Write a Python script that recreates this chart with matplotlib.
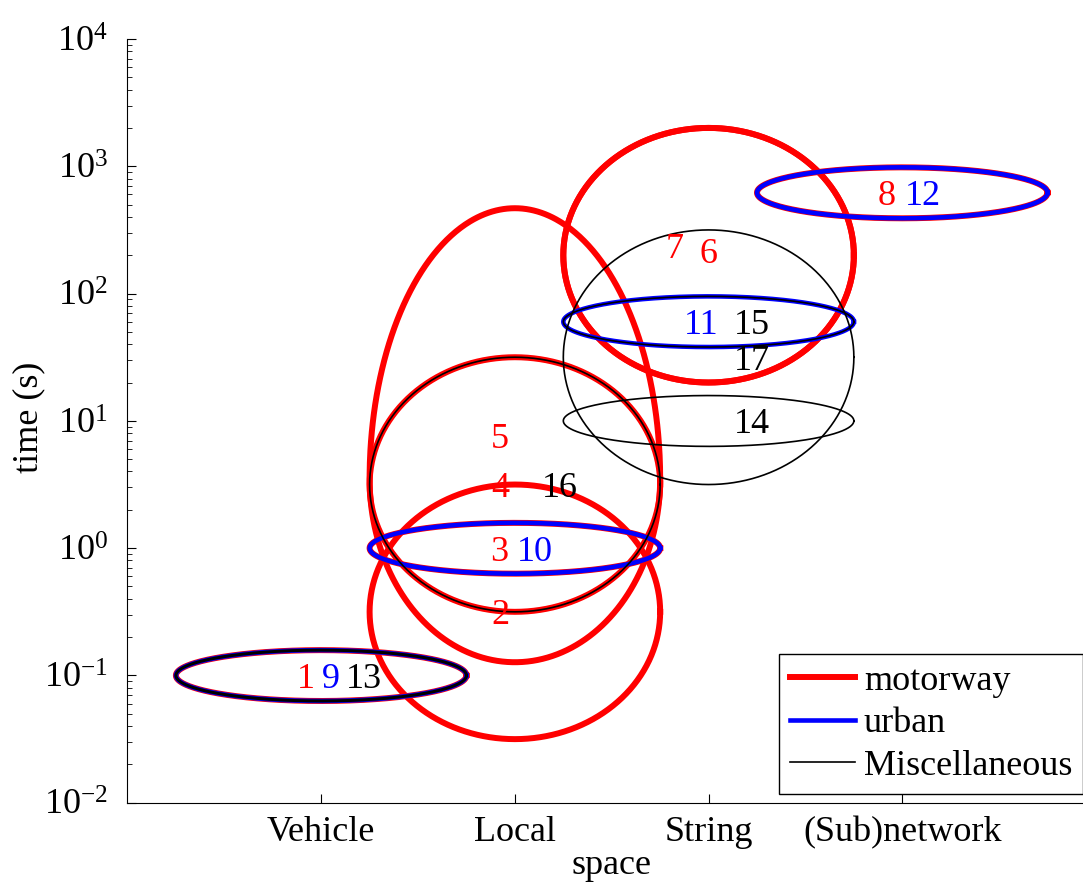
import numpy as np
import matplotlib.pyplot as plt
from matplotlib.lines import Line2D
from matplotlib.ticker import NullFormatter, FixedLocator

plt.rcParams['font.family'] = 'Liberation Serif'
plt.rcParams['mathtext.fontset'] = 'custom'
plt.rcParams['mathtext.rm'] = 'Liberation Serif'
plt.rcParams['mathtext.it'] = 'Liberation Serif:italic'
plt.rcParams['font.size'] = 26

categories = ['Vehicle', 'Local', 'String', '(Sub)network']
groups = ['motorway', 'urban', 'Miscellaneous']

# one entry per numbered study: group, spatial scale, time range in s
ids = [1, 2, 3, 4, 5, 6, 7, 8, 9, 10, 11, 12, 13, 14, 15, 16, 17]
group_of = ['motorway'] * 8 + ['urban'] * 4 + ['Miscellaneous'] * 5
cat_of = ['Vehicle', 'Local', 'Local', 'Local', 'Local', 'String', 'String', '(Sub)network',
          'Vehicle', 'Local', 'String', '(Sub)network',
          'Vehicle', 'String', 'String', 'Local', 'String']
t_low = [0.063, 0.0316, 0.63, 0.316, 0.127, 20, 20, 390,
         0.063, 0.63, 38, 390,
         0.063, 6.3, 38, 0.316, 3.16]
t_wide = [0.1, 0.316, 1, 3.16, 3.5, 200, 200, 620,
          0.1, 1, 60, 620,
          0.1, 10, 60, 3.16, 31.6]
t_high = [0.158, 3.16, 1.58, 31.6, 468, 2000, 2000, 980,
          0.158, 1.58, 95, 980,
          0.158, 15.8, 95, 31.6, 316]
decades = [-2, -1, 0, 1, 2, 3, 4]

# styling / label placement
colors = {'motorway': '#ff0000', 'urban': '#0000ff', 'Miscellaneous': '#000000'}
lws = {'motorway': 4.3, 'urban': 3.3, 'Miscellaneous': 1.2}
lw_override = {13: 2.2}
half_w = 0.75
lab_dx = {1: -0.077, 9: 0.052, 13: 0.222, 2: -0.076, 3: -0.082, 10: 0.104,
          4: -0.076, 16: 0.233, 5: -0.076, 7: -0.173, 6: 0.002, 11: -0.039,
          15: 0.224, 17: 0.224, 14: 0.224, 8: -0.079, 12: 0.106}
lab_dy = {7: 0.08, 6: 0.04}

fig = plt.figure(figsize=(10.83, 8.83), dpi=100)
ax = fig.add_axes([0.1177, 0.0909, 0.8943, 0.8650])
ax.set_yscale('log')

t = np.linspace(0, 2 * np.pi, 721)
s = np.sin(t)
for g in groups:
    for i, n in enumerate(ids):
        if group_of[i] != g:
            continue
        cx = categories.index(cat_of[i]) + 1
        lo, mid, hi = np.log10([t_low[i], t_wide[i], t_high[i]])
        ly = np.where(s >= 0, mid + (hi - mid) * s, mid + (mid - lo) * s)
        ax.plot(cx + half_w * np.cos(t), 10 ** ly, color=colors[g],
                lw=lw_override.get(n, lws[g]))

for i, n in enumerate(ids):
    cx = categories.index(cat_of[i]) + 1
    ymid = (np.log10(t_low[i]) + np.log10(t_high[i])) / 2 + lab_dy.get(n, 0)
    ax.text(cx + lab_dx[n], 10 ** ymid, str(n), color=colors[group_of[i]],
            ha='center', va='center_baseline', fontsize=26)

ax.set_xlim(0, 5)
ax.set_ylim(10.0 ** decades[0], 10.0 ** decades[-1])
ax.set_xticks(range(1, len(categories) + 1))
ax.set_xticklabels(categories)
ax.set_yticks([10.0 ** d for d in decades])
ax.set_yticklabels([r'$10^{%d}$' % d for d in decades])
minor = [k * 10.0 ** d for d in decades[:-1] for k in range(2, 10)]
ax.yaxis.set_minor_locator(FixedLocator(minor))
ax.yaxis.set_minor_formatter(NullFormatter())
ax.tick_params(axis='x', direction='in', length=6.5, pad=9.5)
ax.tick_params(axis='y', which='major', direction='in', length=6.5, pad=14)
ax.tick_params(axis='y', which='minor', direction='in', length=3.5)
ax.spines['top'].set_visible(False)
ax.spines['right'].set_visible(False)

ax.set_xlabel('space')
ax.xaxis.set_label_coords(0.5, -0.061)
ax.set_ylabel('time (s)')
ax.yaxis.set_label_coords(-0.085, 0.505)

handles = [Line2D([], [], color=colors[g], lw=lws[g]) for g in groups]
leg = fig.legend(handles, groups, loc='upper left',
                 bbox_to_anchor=(779 / 1083, 1 - 654 / 883),
                 fancybox=False, edgecolor='black', framealpha=1,
                 borderaxespad=0, borderpad=0.3, labelspacing=0.25,
                 handlelength=1.8, handletextpad=0.25)
leg.get_frame().set_linewidth(1.0)

fig.savefig('out.png', dpi=100)
